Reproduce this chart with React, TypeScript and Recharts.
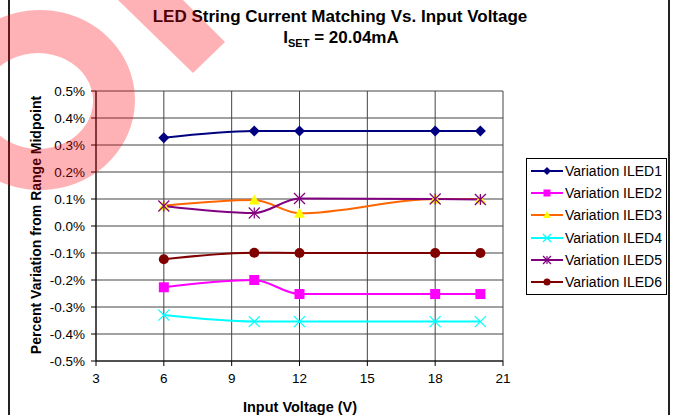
import React from 'react';
import {
  LineChart,
  Line,
  XAxis,
  YAxis,
  CartesianGrid,
} from 'recharts';

const voltages = [6, 10, 12, 18, 20];

const iled1 = [0.327, 0.352, 0.352, 0.352, 0.352];
const iled2 = [-0.227, -0.2, -0.252, -0.252, -0.252];
const iled3 = [0.075, 0.096, 0.047, 0.1, 0.1];
const iled4 = [-0.33, -0.354, -0.354, -0.354, -0.354];
const iled5 = [0.074, 0.048, 0.102, 0.1, 0.098];
const iled6 = [-0.123, -0.099, -0.1, -0.1, -0.1];

const xTicks = [3, 6, 9, 12, 15, 18, 21];
const yTicks = [-0.5, -0.4, -0.3, -0.2, -0.1, 0, 0.1, 0.2, 0.3, 0.4, 0.5];

const data = voltages.map((v, i) => ({
  v,
  ILED1: iled1[i],
  ILED2: iled2[i],
  ILED3: iled3[i],
  ILED4: iled4[i],
  ILED5: iled5[i],
  ILED6: iled6[i],
}));

const FONT = '"Liberation Sans", Arial, sans-serif';

type Shape = 'diamond' | 'square' | 'triangle' | 'x' | 'star' | 'circle';

const SERIES: { key: string; name: string; color: string; fill: string; shape: Shape }[] = [
  { key: 'ILED1', name: 'Variation ILED1', color: '#000080', fill: '#000080', shape: 'diamond' },
  { key: 'ILED2', name: 'Variation ILED2', color: '#FF00FF', fill: '#FF00FF', shape: 'square' },
  { key: 'ILED3', name: 'Variation ILED3', color: '#FF6600', fill: '#FFFF00', shape: 'triangle' },
  { key: 'ILED4', name: 'Variation ILED4', color: '#00FFFF', fill: '#00FFFF', shape: 'x' },
  { key: 'ILED5', name: 'Variation ILED5', color: '#800080', fill: '#800080', shape: 'star' },
  { key: 'ILED6', name: 'Variation ILED6', color: '#800000', fill: '#800000', shape: 'circle' },
];

function Marker({ cx, cy, shape, fill, size = 5 }: { cx: number; cy: number; shape: Shape; fill: string; size?: number }) {
  const s = size;
  switch (shape) {
    case 'diamond':
      return <polygon points={`${cx},${cy - s} ${cx + s},${cy} ${cx},${cy + s} ${cx - s},${cy}`} fill={fill} />;
    case 'square':
      return <rect x={cx - s + 0.5} y={cy - s + 0.5} width={2 * s - 1} height={2 * s - 1} fill={fill} />;
    case 'triangle':
      return <polygon points={`${cx},${cy - s} ${cx + s},${cy + s - 1} ${cx - s},${cy + s - 1}`} fill={fill} />;
    case 'x':
      return (
        <g stroke={fill} strokeWidth={1.2}>
          <line x1={cx - s} y1={cy - s} x2={cx + s} y2={cy + s} />
          <line x1={cx - s} y1={cy + s} x2={cx + s} y2={cy - s} />
        </g>
      );
    case 'star':
      return (
        <g stroke={fill} strokeWidth={1.2}>
          <line x1={cx - s} y1={cy - s} x2={cx + s} y2={cy + s} />
          <line x1={cx - s} y1={cy + s} x2={cx + s} y2={cy - s} />
          <line x1={cx} y1={cy - s} x2={cx} y2={cy + s} />
        </g>
      );
    default:
      return <circle cx={cx} cy={cy} r={s - 0.5} fill={fill} />;
  }
}

const fmtPct = (v: number) => {
  const r = Math.round(v * 10) / 10;
  return `${(r === 0 ? 0 : r).toFixed(1)}%`;
};

function LegendBox() {
  return (
    <div
      style={{
        position: 'absolute',
        left: 526,
        top: 158,
        border: '1px solid #000',
        width: 139,
        padding: '1px 0 1px 0',
        background: '#fff',
        fontFamily: FONT,
        fontSize: 14,
      }}
    >
      {SERIES.map((s) => (
        <div key={s.key} style={{ display: 'flex', alignItems: 'center', height: 22.2 }}>
          <svg width={38} height={14} style={{ flex: 'none' }}>
            <line x1={4} y1={7} x2={36} y2={7} stroke={s.color} strokeWidth={2} />
            <Marker cx={20} cy={7} shape={s.shape} fill={s.fill} size={4} />
          </svg>
          <span style={{ color: '#000', whiteSpace: 'nowrap' }}>{s.name}</span>
        </div>
      ))}
    </div>
  );
}

export default function App() {
  return (
    <div style={{ position: 'absolute', left: 0, top: 0, width: 682, height: 415, background: '#fff', overflow: 'hidden' }}>
      {/* chart frame edges */}
      <div style={{ position: 'absolute', left: 8, top: 0, width: 2, height: 415, background: '#222' }} />
      <div style={{ position: 'absolute', left: 668, top: 0, width: 2, height: 415, background: '#222' }} />

      <div style={{ position: 'absolute', left: 340, top: 7, transform: 'translateX(-50%)', whiteSpace: 'nowrap', fontFamily: FONT, fontWeight: 'bold', fontSize: 17, color: '#000' }}>
        LED String Current Matching Vs. Input Voltage
      </div>
      <div style={{ position: 'absolute', left: 341, top: 28, transform: 'translateX(-50%)', whiteSpace: 'nowrap', fontFamily: FONT, fontWeight: 'bold', fontSize: 17, color: '#000', lineHeight: '20px' }}>
        I<sub style={{ fontSize: 11, verticalAlign: -4, lineHeight: 0 }}>SET</sub> = 20.04mA
      </div>

      <div
        style={{
          position: 'absolute',
          left: 36,
          top: 225,
          transform: 'translate(-50%, -50%) rotate(-90deg)',
          whiteSpace: 'nowrap',
          fontFamily: FONT,
          fontWeight: 'bold',
          fontSize: 14,
        }}
      >
        Percent Variation from Range Midpoint
      </div>

      <div style={{ position: 'absolute', left: 300, top: 407, transform: 'translate(-50%, -50%)', whiteSpace: 'nowrap', fontFamily: FONT, fontWeight: 'bold', fontSize: 14.5 }}>
        Input Voltage (V)
      </div>

      <LineChart
        width={682}
        height={415}
        data={data}
        margin={{ top: 91, right: 179, bottom: 24, left: 36 }}
        style={{ position: 'absolute', left: 0, top: 0 }}
      >
        <CartesianGrid stroke="#444" strokeWidth={1} horizontalValues={yTicks} verticalValues={xTicks} />
        <XAxis
          dataKey="v"
          type="number"
          domain={[3, 21]}
          ticks={xTicks}
          height={30}
          axisLine={{ stroke: '#000' }}
          tickLine={{ stroke: '#000' }}
          tickSize={5}
          tickMargin={7}
          tick={{ fill: '#000', fontSize: 13.5, fontFamily: FONT }}
          interval={0}
        />
        <YAxis
          type="number"
          domain={[-0.5, 0.5]}
          ticks={yTicks}
          width={60}
          axisLine={{ stroke: '#000' }}
          tickLine={{ stroke: '#000' }}
          tickSize={5}
          tickMargin={6}
          tickFormatter={fmtPct}
          tick={{ fill: '#000', fontSize: 13.5, fontFamily: FONT }}
          interval={0}
        />
        {SERIES.map((s) => (
          <Line
            key={s.key}
            dataKey={s.key}
            name={s.name}
            type="monotone"
            stroke={s.color}
            strokeWidth={2}
            isAnimationActive={false}
            dot={(p: any) => <Marker key={`${s.key}-${p.index}`} cx={p.cx} cy={p.cy} shape={s.shape} fill={s.fill} size={5.5} />}
            activeDot={false}
          />
        ))}
      </LineChart>

      <LegendBox />

      {/* red watermark overlay */}
      <svg width={682} height={415} style={{ position: 'absolute', left: 0, top: 0, pointerEvents: 'none' }}>
        <path
          fillRule="evenodd"
          fill="rgba(255,0,10,0.3)"
          d="M 40 10 A 95 90 0 1 1 39.9 10 Z M 38 53 A 55 48 0 1 0 38.1 53 Z"
        />
        <polygon points="118,0 193,73 225,42 183,0" fill="rgba(255,0,10,0.3)" />
      </svg>
    </div>
  );
}
